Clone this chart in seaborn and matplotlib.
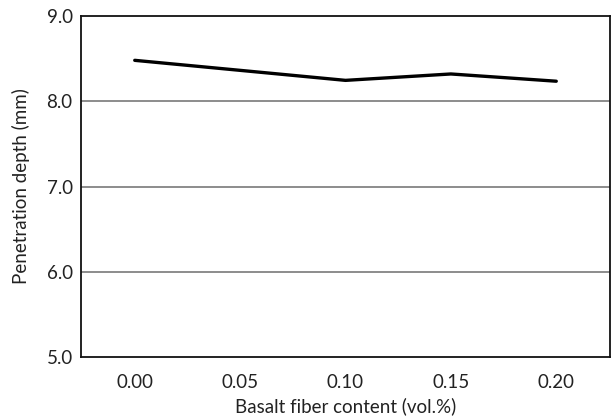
import matplotlib
matplotlib.use("Agg")
import matplotlib.pyplot as plt
import seaborn as sns
import pandas as pd

fiber_content = [0.00, 0.10, 0.15, 0.20]
penetration_depth = [8.48, 8.245, 8.32, 8.235]
x_ticks = [0.00, 0.05, 0.10, 0.15, 0.20]
x_tick_labels = ["0.00", "0.05", "0.10", "0.15", "0.20"]
y_ticks = [5.0, 6.0, 7.0, 8.0, 9.0]
y_tick_labels = ["5.0", "6.0", "7.0", "8.0", "9.0"]

sns.set_style("white")
plt.rcParams["font.family"] = ["Lato", "DejaVu Sans"]

df = pd.DataFrame({"x": fiber_content, "y": penetration_depth})

fig = plt.figure(figsize=(6.11, 4.18), dpi=100)
ax = fig.add_axes([81/611, (418-357)/418, (610-81)/611, (357-16)/418])
sns.lineplot(data=df, x="x", y="y", ax=ax, color="black", linewidth=2.4, zorder=3)

ax.set_xlim(-0.0255, 0.2255)
ax.set_ylim(5.0, 9.0)
ax.set_xticks(x_ticks)
ax.set_xticklabels(x_tick_labels)
ax.set_yticks(y_ticks)
ax.set_yticklabels(y_tick_labels)
ax.tick_params(axis="both", length=0, labelsize=13.5, colors="#222222", pad=6)
ax.tick_params(axis="x", pad=12)
for y in [6.0, 7.0, 8.0]:
    ax.axhline(y, color="#8c8c8c", linewidth=1.4, zorder=1)
for s in ax.spines.values():
    s.set_visible(True)
    s.set_color("#111111")
    s.set_linewidth(1.3)
ax.set_xlabel("Basalt fiber content (vol.%)", fontsize=13.5, color="#222222", labelpad=5)
ax.set_ylabel("Penetration depth (mm)", fontsize=13.5, color="#222222", labelpad=12)

fig.savefig("out.png", dpi=100)
